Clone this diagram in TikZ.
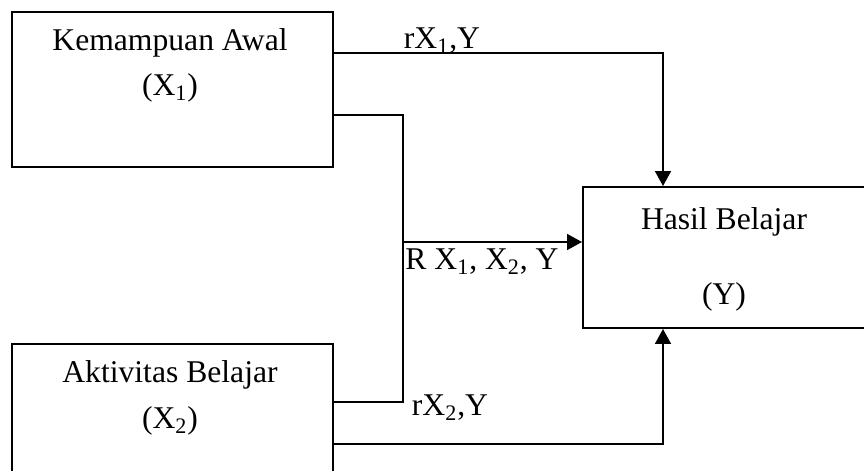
\documentclass[tikz,border=0pt]{standalone}
\usepackage{fontspec}
\setmainfont{Liberation Serif}
\usetikzlibrary{arrows.meta, positioning}

\begin{document}
\begin{tikzpicture}[>={Triangle[width=9pt,length=8.5pt]}, line width=1.1pt,
    box/.style={draw, rectangle, minimum width=6.42cm, minimum height=3.1cm},
    lbl/.style={font=\fontsize{18}{22}\selectfont, inner sep=1pt}]
  \clip (0,0) rectangle (17.28,9.4);
  % Variables
  \node[box] (kem) at (3.45,7.61) {};
  \node[lbl] (kemT) at (3.4,8.54) {Kemampuan Awal};
  \node[lbl] (kemX) at (3.4,7.64) {(X\textsubscript{1})};
  \node[box] (akt) at (3.45,0.97) {};
  \node[lbl] (aktT) at (3.4,1.9) {Aktivitas Belajar};
  \node[lbl] (aktX) at (3.4,0.98) {(X\textsubscript{2})};
  \node[box, minimum height=2.82cm] (hasil) at (14.87,4.25) {};
  \node[lbl] (hasT) at (14.48,4.96) {Hasil Belajar};
  \node[lbl] (hasY) at (14.48,3.46) {(Y)};
  % Bends
  \coordinate (c1) at (13.26,8.34);
  \coordinate (c2) at (8.06,7.1);
  \coordinate (c3) at (8.06,1.36);
  \coordinate (c4) at (8.06,4.56);
  \coordinate (c5) at (13.26,0.52);
  % Connectors
  \draw[->] (kem.east |- c1) -- (c1) -- (c1 |- hasil.north);
  \draw (kem.east |- c2) -- (c2) -- (c3) -- (akt.east |- c3);
  \draw[->] (c4) -- (hasil.west |- c4);
  \draw[->] (akt.east |- c5) -- (c5) -- (c5 |- hasil.south);
  % Correlations
  \node[lbl] (r1) at (8.84,8.58) {rX\textsubscript{1},Y};
  \node[lbl] (r12) at (9.64,4.16) {R X\textsubscript{1}, X\textsubscript{2}, Y};
  \node[lbl] (r2) at (9.0,1.24) {rX\textsubscript{2},Y};
\end{tikzpicture}
\end{document}
